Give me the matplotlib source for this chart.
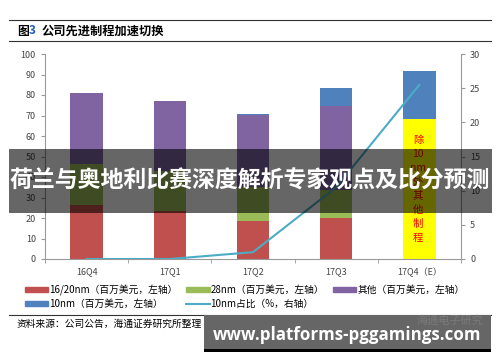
import matplotlib.pyplot as plt
from matplotlib.patches import Rectangle
from matplotlib.lines import Line2D

plt.rcParams['font.family'] = ['Noto Sans CJK SC', 'DejaVu Sans']

# data
quarters = ['16Q4', '17Q1', '17Q2', '17Q3', '17Q4（E）']
nm16_20 = [26.5, 23.5, 18.3, 20.0, 0]
nm28 = [20.0, 19.5, 17.0, 13.8, 0]
other = [34.5, 34.0, 35.0, 41.0, 68.3]
nm10 = [0, 0, 0.6, 8.8, 23.4]
share10 = [0, 0, 1.0, 10.5, 25.5]

c_red = '#C0504D'
c_green = '#9BBB59'
c_purple = '#8064A2'
c_blue = '#4F81BD'
c_line = '#4BACC6'

W, H = 500, 362
fig = plt.figure(figsize=(W / 100, H / 100), dpi=100)

def px(x, y):
    return x / W, 1 - y / H

ax = fig.add_axes([45 / W, 1 - 259 / H, (461 - 45) / W, (259 - 54) / H])
x = range(len(quarters))
bw = 0.39
b1 = [a + b for a, b in zip(nm16_20, nm28)]
b2 = [a + b for a, b in zip(b1, other)]
ax.bar(x, nm16_20, bw, color=c_red)
ax.bar(x, nm28, bw, bottom=nm16_20, color=c_green)
ax.bar(x, other, bw, bottom=b1, color=[c_purple] * 4 + ['#FFFF00'])
ax.bar(x, nm10, bw, bottom=b2, color=c_blue)
ax.set_ylim(0, 100)
ax.set_yticks(range(0, 101, 10))
ax.set_xlim(-0.5, len(quarters) - 0.5)
ax.set_xticks(list(x))
ax.set_xticklabels(quarters)
ax.set_xticks([i - 0.5 for i in range(len(quarters) + 1)], minor=True)
ax.tick_params(axis='x', which='major', length=0, pad=6)
ax.tick_params(axis='x', which='minor', length=3, color='#999999')
ax.tick_params(axis='y', length=3, color='#999999')
ax.tick_params(labelsize=6.5, labelcolor='#444444')
for s in ['top', 'right']:
    ax.spines[s].set_visible(False)
for s in ['left', 'bottom']:
    ax.spines[s].set_color('#999999')

ax2 = ax.twinx()
ax2.plot(x, share10, color=c_line, lw=1.5)
ax2.set_ylim(0, 30)
ax2.set_yticks(range(0, 31, 5))
ax2.tick_params(axis='y', length=3, color='#999999', labelsize=6.5, labelcolor='#444444')
for s in ['top', 'left', 'bottom']:
    ax2.spines[s].set_visible(False)
ax2.spines['right'].set_color('#999999')

# text inside the yellow bar
for i, t in enumerate(['除', '10', 'nm', '外', '其', '他', '制', '程']):
    fig.text(*px(418, 140 + 14 * i), t, color='red', fontsize=7.5,
             ha='center', va='center', zorder=3)

# legend
handles = [Rectangle((0, 0), 1, 1, color=c_red),
           Rectangle((0, 0), 1, 1, color=c_blue),
           Rectangle((0, 0), 1, 1, color=c_green),
           Line2D([], [], color=c_line, lw=1.5),
           Rectangle((0, 0), 1, 1, color=c_purple)]
labels = ['16/20nm（百万美元，左轴）', '10nm（百万美元，左轴）',
          '28nm（百万美元，左轴）', '10nm占比（%，右轴）',
          '其他（百万美元，左轴）']
fig.legend(handles, labels, ncol=3, loc='upper left', bbox_to_anchor=px(16, 276),
           frameon=False, fontsize=7, handlelength=2.4, handleheight=0.45,
           handletextpad=0.1, columnspacing=0.9, labelspacing=0.35)

# title block and rules
for yy in [20, 41, 315]:
    fig.add_artist(Line2D([9 / W, 491 / W], [1 - yy / H] * 2, color='#333333', lw=0.8))
fig.text(*px(17, 31), '图', fontsize=8.5, fontweight='bold', va='center')
fig.text(*px(29, 31), '3', fontsize=8.5, fontweight='bold', va='center', color='#1F5FBF')
fig.text(*px(42, 31), '公司先进制程加速切换', fontsize=8.8, fontweight='bold', va='center')
fig.text(*px(17, 324), '资料来源：公司公告，海通证券研究所整理', fontsize=7, va='center')

# overlay banner
fig.add_artist(Rectangle(px(9, 213), 483 / W, 64 / H, color='black', alpha=0.6, lw=0,
                         zorder=5))
fig.text(*px(250, 181), '荷兰与奥地利比赛深度解析专家观点及比分预测', color='white',
         fontsize=16.5, fontweight='bold', ha='center', va='center', zorder=6)

# watermark box
fig.add_artist(Rectangle(px(204, 352), 287 / W, 37 / H, color='#666666', lw=0, zorder=5))
fig.add_artist(Rectangle(px(204, 352), 287 / W, 3 / H, color='black', lw=0, zorder=5))
fig.text(*px(450, 321), '海通电子研究', color='#7a7a7a', fontsize=8, ha='center',
         va='center', zorder=6)
fig.text(*px(347, 335), 'www.platforms-pggamings.com', color='white',
         fontsize=12.2, fontweight='bold', family='Open Sans', ha='center', va='center',
         zorder=6)

fig.savefig('out.png', dpi=100)
